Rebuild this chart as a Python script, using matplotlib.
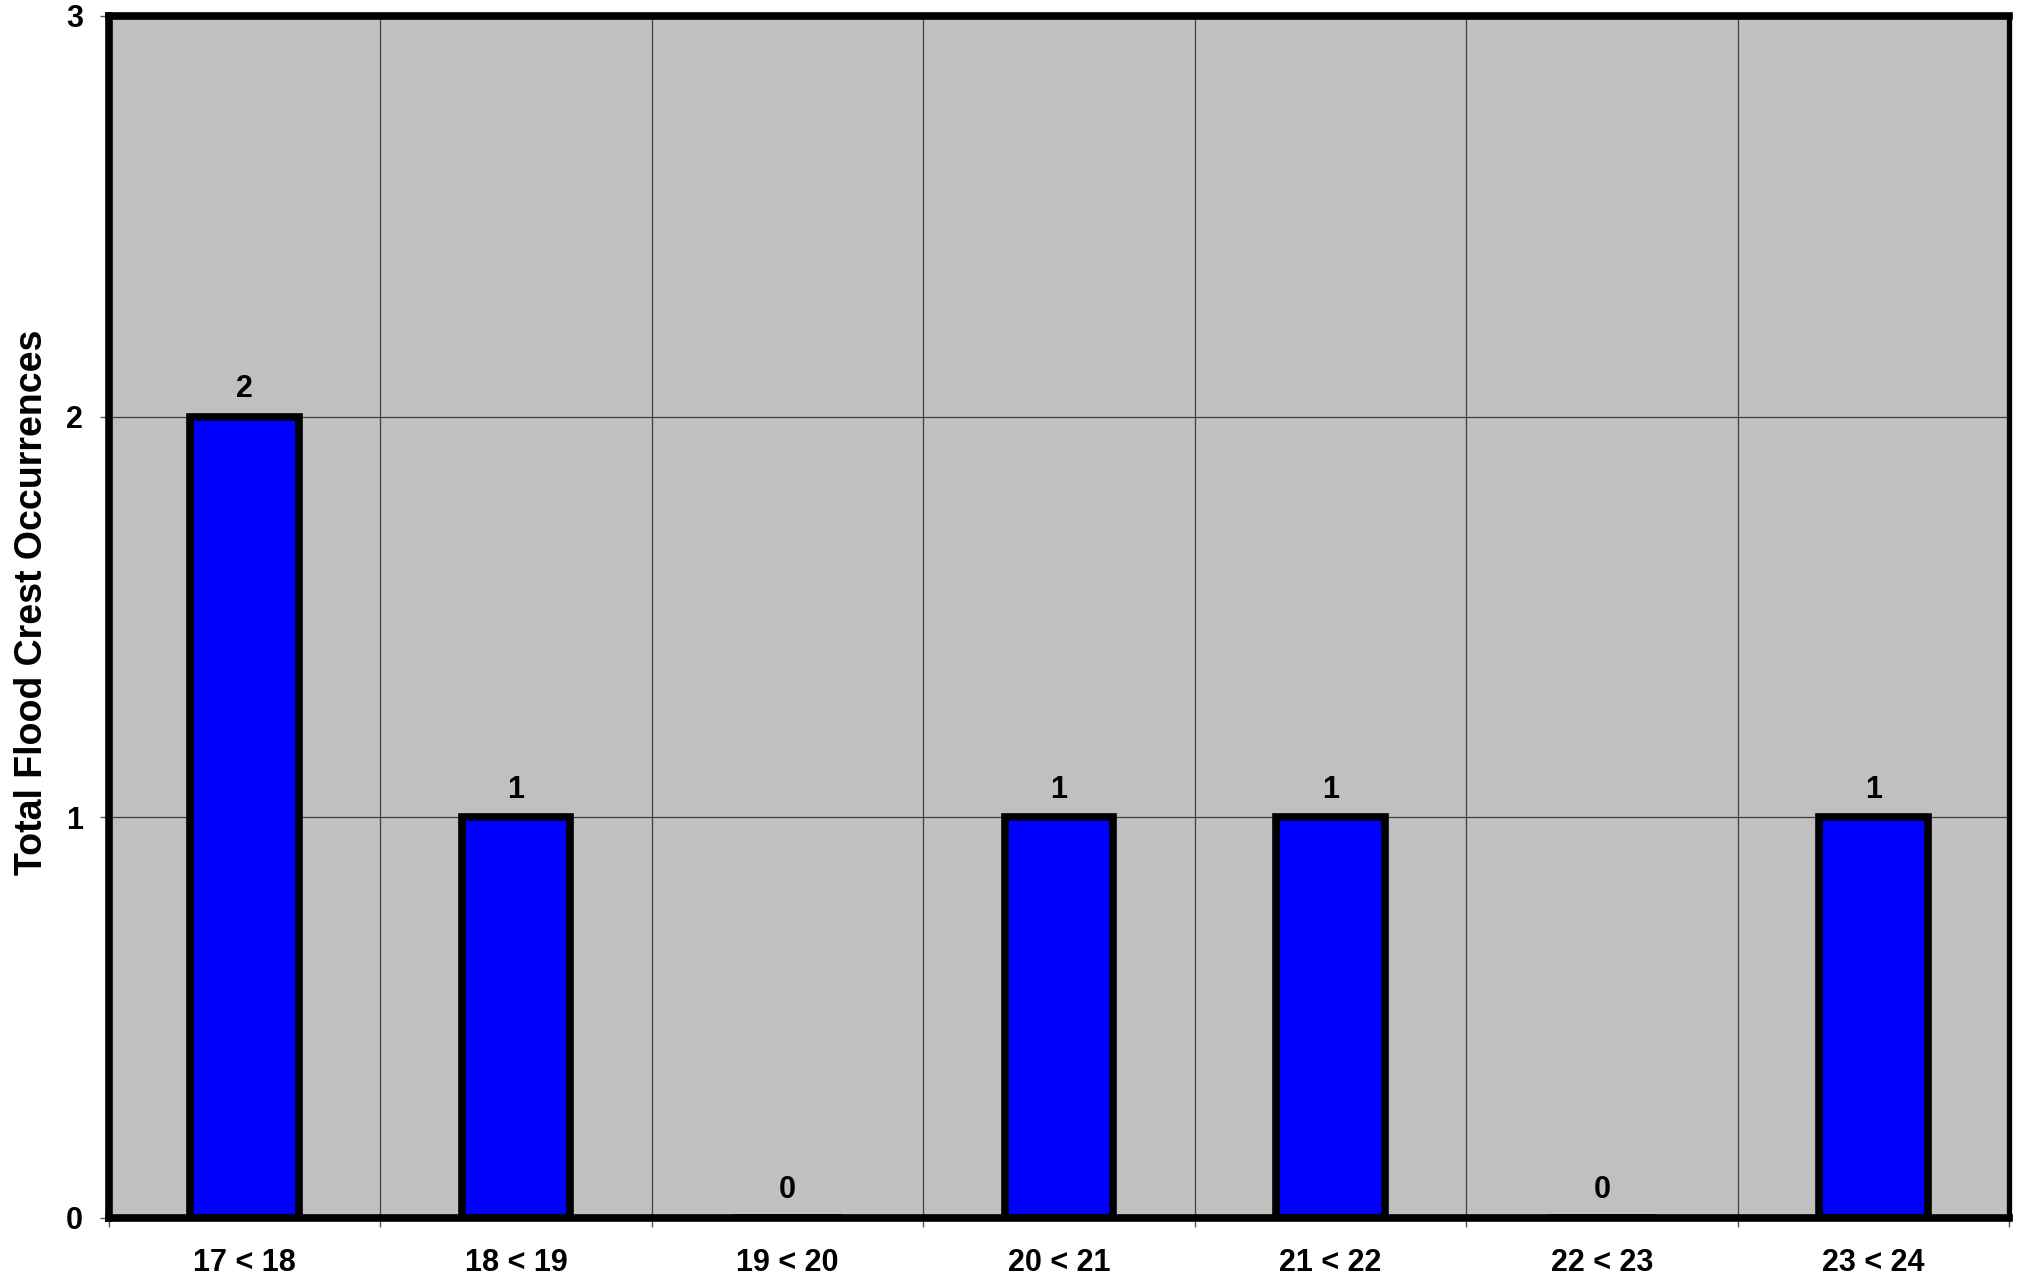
import matplotlib
matplotlib.use("Agg")
import matplotlib.pyplot as plt
import numpy as np

categories = ["17 < 18", "18 < 19", "19 < 20", "20 < 21", "21 < 22", "22 < 23", "23 < 24"]
counts = [2, 1, 0, 1, 1, 0, 1]
y_ticks = [0, 1, 2, 3]
y_label = "Total Flood Crest Occurrences"

plt.rcParams['font.family'] = ['Liberation Sans', 'DejaVu Sans']
plt.rcParams['font.weight'] = 'bold'

fig = plt.figure(figsize=(20.17, 12.78), dpi=100)
ax = fig.add_axes([0.054, 0.047, 0.942, 0.9405])
ax.set_facecolor('#c0c0c0')

x = np.arange(len(categories))
ax.bar(x, counts, width=0.40, color='#0000ff', edgecolor='black', linewidth=5.5, zorder=3)

for xi, v in zip(x, counts):
    ax.annotate(str(v), (xi, v), xytext=(0, 9), textcoords='offset points',
                ha='center', va='bottom', fontsize=22, fontweight='bold', zorder=4)

ax.set_xlim(-0.5, len(categories) - 0.5)
ax.set_ylim(0, 3)
ax.set_xticks(x)
ax.set_xticklabels(categories, fontsize=22, fontweight='bold')
ax.set_xticks(np.arange(-0.5, len(categories)), minor=True)
ax.tick_params(axis='x', which='major', length=0, pad=22)
ax.tick_params(axis='x', which='minor', length=6.5, width=1, color='#555555')
ax.set_yticks(y_ticks)
ax.set_yticklabels([str(t) for t in y_ticks], fontsize=22, fontweight='bold')
ax.tick_params(axis='y', which='major', length=6.5, width=1, color='#555555', pad=12)

ax.grid(True, axis='x', which='minor', color='#404040', linewidth=0.9, zorder=1)
ax.grid(True, axis='y', which='major', color='#404040', linewidth=0.9, zorder=1)
ax.set_axisbelow(True)

for side, s in ax.spines.items():
    s.set_linewidth(5.5)
    s.set_color('black')
    s.set_zorder(5)
ax.spines['right'].set_linewidth(3.8)

ax.set_ylabel(y_label, fontsize=27, fontweight='bold')
ax.yaxis.set_label_coords(-0.031, 0.512)

fig.savefig('out.png', dpi=100)
